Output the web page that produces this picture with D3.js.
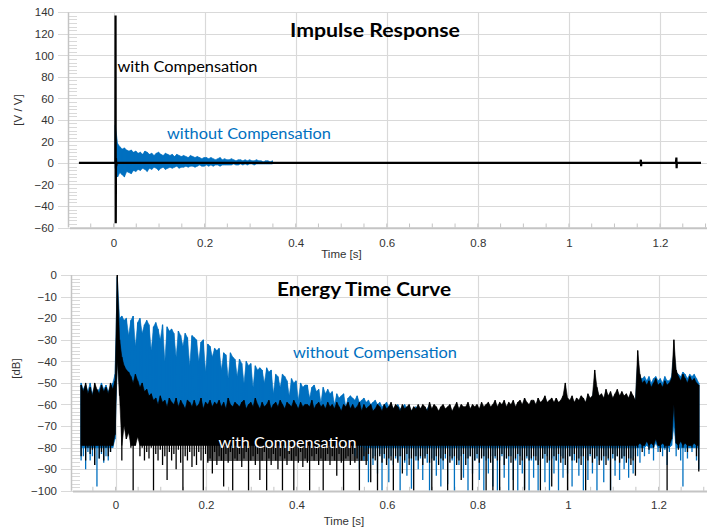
<!DOCTYPE html>
<html><head><meta charset="utf-8">
<script src="https://cdn.jsdelivr.net/npm/d3@7"></script>
<style>body{margin:0;background:#fff}svg{display:block}</style>
</head><body>
<svg id="c" width="707" height="530"></svg>
<script>
// ---------- axis ticks ----------
const timeTicks = [0, 0.2, 0.4, 0.6, 0.8, 1, 1.2];
const irTicks = [-60, -40, -20, 0, 20, 40, 60, 80, 100, 120, 140];
const etcTicks = [-100, -90, -80, -70, -60, -50, -40, -30, -20, -10, 0];

// ---------- Impulse response: "with Compensation" (time [s], value [V/V]) ----------
const irWithT = [-0.076, 0.0040, 0.0045, 0.0050, 0.0055, 0.0060, 0.0070, 1.1570, 1.1580, 1.1585, 1.1590, 1.2350, 1.2360, 1.2365, 1.2370, 1.2900];
const irWithV = [0, 0, 137, -56, 4, -3, 0, 0, 3, -3, 0, 0, 5, -5, 0, 0];

// ---------- Impulse response: "without Compensation", min/max per 5 ms bin from 0.004 s ----------
const irWithoutStart = 0.004, irBin = 0.005;
const irWithoutHi = [35,18,15,13,14,12,11,12,10,11, 9,10,8,11,10,8,9,7,9,10, 8,7,9,8,7,8,6,8,7,6, 7,6,5,7,6,5,6,5,4,5, 5,4,5,4,3,4,5,3,4,3, 3,4,3,2,3,3,2,3,2,3, 2,2,3,2,2,1,2,2,1,2];
const irWithoutLo = [-5,-13,-9,-11,-13,-8,-9,-10,-7,-8, -6,-7,-5,-6,-8,-5,-6,-4,-5,-7, -5,-4,-6,-5,-4,-5,-4,-3,-5,-4, -4,-3,-4,-3,-3,-4,-3,-2,-3,-3, -2,-3,-2,-3,-2,-2,-3,-2,-2,-2, -2,-2,-1,-2,-2,-1,-2,-1,-2,-1, -1,-2,-1,-1,-1,-1,-1,-1,-1,-1];

// ---------- Energy time curve, min/max per 5 ms bin from -0.076 s [dB] ----------
const etcStart = -0.076, etcBin = 0.005;
const etcWithHi = [
-51,-54,-50,-55,-52,-56,-50,-53,-55,-51,
-54,-52,-55,-50,-53,-49,0,-30,-38,-42,
-44,-45,-47,-50,-46,-49,-52,-50,-54,-53,
-56,-55,-58,-57,-60,-56,-59,-58,-61,-57,
-59,-60,-57,-61,-58,-60,-62,-58,-59,-61,
-58,-61,-60,-57,-62,-59,-60,-58,-61,-59,
-60,-58,-61,-59,-62,-57,-60,-61,-59,-60,
-61,-59,-58,-62,-60,-59,-61,-57,-60,-62,
-59,-61,-60,-58,-62,-60,-59,-61,-58,-60,
-62,-59,-60,-61,-58,-60,-62,-59,-61,-60,
-60,-61,-58,-62,-60,-59,-61,-60,-62,-59,
-61,-60,-62,-59,-61,-63,-60,-61,-59,-62,
-60,-62,-61,-59,-63,-60,-62,-61,-60,-63,
-62,-60,-61,-63,-60,-62,-61,-59,-62,-60,
-61,-63,-60,-62,-61,-60,-63,-61,-62,-60,
-62,-60,-61,-63,-59,-62,-60,-61,-63,-61,
-60,-62,-61,-60,-63,-61,-59,-62,-60,-61,
-61,-59,-62,-60,-61,-60,-62,-59,-61,-60,
-59,-61,-60,-58,-61,-59,-60,-58,-61,-59,
-60,-58,-61,-59,-58,-60,-57,-59,-60,-58,
-58,-60,-57,-59,-58,-56,-59,-58,-57,-59,
-57,-59,-58,-56,-50,-57,-58,-56,-59,-57,
-58,-56,-57,-59,-55,-57,-56,-44,-52,-56,
-55,-57,-53,-56,-54,-57,-55,-53,-56,-54,
-56,-55,-57,-54,-56,-58,-35,-46,-50,-49,
-51,-49,-52,-50,-48,-51,-50,-52,-49,-51,
-50,-48,-30,-44,-47,-49,-46,-48,-50,-47,
-49,-48,-50,-51];
const etcWithLo = [
-84,-79,-86,-80,-83,-81,-88,-79,-85,-82,
-86,-80,-84,-82,-79,-74,-40,-56,-86,-70,
-76,-73,-80,-100,-79,-75,-84,-80,-86,-82,
-85,-80,-100,-83,-86,-81,-88,-84,-95,-82,
-86,-83,-90,-81,-87,-100,-84,-86,-82,-89,
-84,-88,-82,-86,-100,-83,-87,-85,-92,-82,
-88,-84,-86,-98,-83,-87,-82,-100,-85,-86,
-83,-89,-85,-82,-100,-86,-84,-88,-83,-95,
-86,-82,-100,-85,-88,-83,-86,-90,-84,-100,
-85,-88,-83,-86,-100,-84,-87,-82,-89,-85,
-87,-100,-84,-86,-83,-88,-85,-100,-86,-83,
-88,-84,-86,-93,-83,-87,-100,-85,-84,-88,
-83,-87,-85,-100,-86,-84,-88,-83,-96,-85,
-86,-100,-84,-87,-83,-88,-85,-86,-100,-84,
-87,-84,-92,-86,-83,-88,-85,-100,-84,-86,
-84,-88,-85,-83,-87,-100,-86,-84,-88,-85,
-86,-83,-100,-87,-85,-84,-88,-86,-95,-83,
-88,-85,-84,-100,-86,-83,-87,-85,-84,-100,
-85,-87,-100,-84,-86,-100,-83,-88,-85,-84,
-87,-100,-85,-83,-88,-86,-100,-84,-86,-85,
-84,-86,-88,-100,-85,-83,-87,-86,-98,-84,
-86,-83,-87,-85,-88,-100,-84,-86,-83,-87,
-85,-88,-84,-100,-86,-83,-87,-85,-84,-88,
-86,-84,-88,-85,-100,-83,-86,-84,-87,-85,
-84,-87,-85,-88,-86,-93,-80,-78,-82,-79,
-77,-81,-78,-80,-76,-79,-82,-78,-80,-100,
-79,-76,-60,-78,-81,-77,-80,-78,-82,-79,
-80,-78,-84,-91];
const etcWithoutHi = [
-50,-53,-51,-54,-50,-55,-52,-54,-53,-50,
-53,-51,-54,-52,-50,-46,-1,-20,-19,-21,
-20,-28,-21,-19,-33,-22,-20,-27,-23,-21,
-23,-35,-24,-22,-25,-30,-23,-40,-24,-26,
-25,-27,-38,-26,-28,-33,-27,-29,-42,-28,
-29,-30,-40,-31,-30,-45,-32,-33,-38,-34,
-35,-34,-44,-36,-37,-48,-36,-38,-39,-47,
-39,-41,-50,-40,-42,-41,-52,-42,-44,-43,
-44,-50,-43,-45,-44,-55,-46,-47,-52,-46,
-47,-49,-56,-48,-50,-49,-58,-50,-52,-51,
-51,-57,-52,-51,-54,-53,-59,-52,-55,-53,
-55,-54,-60,-55,-57,-56,-55,-61,-57,-56,
-57,-58,-56,-59,-58,-57,-59,-58,-60,-59,
-58,-60,-59,-61,-60,-59,-61,-60,-62,-61,
-60,-62,-61,-60,-62,-61,-63,-62,-61,-63,
-62,-61,-63,-62,-60,-63,-61,-62,-64,-62,
-61,-63,-62,-61,-64,-62,-60,-63,-61,-62,
-62,-60,-63,-61,-62,-61,-63,-60,-62,-61,
-60,-62,-61,-59,-62,-60,-61,-59,-62,-60,
-61,-59,-62,-60,-59,-61,-58,-60,-61,-59,
-59,-61,-58,-60,-59,-57,-60,-59,-58,-60,
-58,-60,-59,-57,-55,-58,-59,-57,-60,-58,
-59,-57,-58,-60,-56,-58,-57,-50,-54,-57,
-56,-58,-55,-57,-55,-58,-56,-54,-57,-55,
-57,-56,-58,-55,-57,-59,-40,-48,-48,-47,
-49,-47,-50,-48,-47,-49,-48,-50,-47,-49,
-49,-47,-36,-45,-46,-47,-45,-46,-48,-46,
-47,-46,-48,-50];
const etcWithoutLo = [
-86,-84,-90,-82,-86,-84,-88,-98,-85,-83,
-87,-84,-86,-82,-80,-76,-38,-50,-45,-60,
-48,-50,-52,-55,-50,-53,-56,-54,-58,-57,
-60,-59,-62,-61,-63,-60,-62,-61,-64,-60,
-62,-63,-60,-64,-61,-63,-65,-61,-62,-64,
-61,-64,-63,-60,-65,-62,-63,-61,-64,-62,
-63,-61,-64,-62,-65,-60,-63,-64,-62,-63,
-64,-62,-61,-65,-63,-62,-64,-60,-63,-65,
-62,-64,-63,-61,-65,-63,-62,-64,-61,-63,
-65,-62,-63,-64,-61,-63,-65,-62,-64,-63,
-63,-64,-61,-65,-63,-62,-64,-63,-65,-62,
-66,-64,-67,-63,-66,-68,-64,-66,-63,-67,
-75,-84,-78,-90,-79,-86,-82,-96,-80,-88,
-84,-92,-83,-100,-85,-86,-96,-84,-88,-85,
-86,-100,-84,-87,-93,-85,-99,-84,-86,-90,
-85,-95,-84,-87,-100,-85,-86,-93,-84,-98,
-90,-85,-97,-84,-86,-100,-85,-88,-84,-94,
-85,-100,-84,-92,-86,-85,-95,-84,-100,-86,
-92,-84,-98,-85,-100,-86,-84,-94,-85,-100,
-84,-95,-86,-100,-84,-92,-99,-85,-100,-86,
-94,-84,-100,-86,-85,-96,-84,-100,-85,-92,
-86,-100,-84,-94,-85,-92,-84,-98,-86,-85,
-93,-84,-100,-85,-95,-84,-92,-85,-100,-86,
-85,-96,-84,-86,-100,-85,-93,-84,-95,-85,
-90,-84,-94,-85,-92,-84,-84,-87,-80,-84,
-79,-83,-80,-86,-78,-82,-80,-84,-81,-88,
-82,-79,-70,-84,-80,-86,-98,-82,-85,-80,
-82,-80,-86,-90];

// ---------- labels ----------
const titles = ["Impulse Response", "Energy Time Curve"];
const seriesNames = ["with Compensation", "without Compensation"];
const yTitles = ["[V / V]", "[dB]"];
const xTitle = "Time [s]";

// ---------- drawing ----------
const BLUE = "#0070c0", GRID = "#d9d9d9", AXIS = "#c4c4c4";
const svg = d3.select("#c");
const defs = svg.append("defs");

function bins(t0, dt, hi, lo) {
  return hi.map((h, i) => ({t: t0 + dt * i, hi: h, lo: lo[i]}));
}
// dense signal drawn as a filled min/max band (core clipped at `floor`) plus thin min/max bars
function drawBand(P, data, color, floor, barW) {
  const area = d3.area().x(d => P.x(d.t)).y1(d => P.y(d.hi)).y0(d => P.y(Math.max(d.lo, floor)));
  P.dg.append("path").attr("d", area(data)).attr("fill", color).attr("stroke", color).attr("stroke-width", 0.6);
  const bars = data.map(d => `M${P.x(d.t).toFixed(2)},${P.y(d.hi).toFixed(2)}V${P.y(d.lo).toFixed(2)}`).join("");
  P.dg.append("path").attr("d", bars).attr("fill", "none").attr("stroke", color).attr("stroke-width", barW);
}

function panel(o) {
  const g = svg.append("g");
  const x = d3.scaleLinear().domain([0, 1.2]).range(o.xr);
  const y = d3.scaleLinear().domain(o.yd).range(o.yr);
  const top = o.yr[1], bot = o.yr[0];
  const left = o.left, right = 707;
  g.selectAll(".hg").data(o.yticks).join("line")
    .attr("x1", left - 10).attr("x2", right)
    .attr("y1", d => Math.round(y(d)) + 0.5).attr("y2", d => Math.round(y(d)) + 0.5)
    .attr("stroke", GRID).attr("stroke-width", 1.2);
  g.selectAll(".vg").data(timeTicks).join("line")
    .attr("x1", d => Math.round(x(d)) + 0.5).attr("x2", d => Math.round(x(d)) + 0.5)
    .attr("y1", top).attr("y2", bot)
    .attr("stroke", GRID).attr("stroke-width", 1.2);
  const minor = [];
  for (let k = 0; k < o.yticks.length - 1; k++) {
    const a = o.yticks[k], b = o.yticks[k + 1];
    for (let m = 1; m < 6; m++) minor.push(a + (b - a) * m / 6);
  }
  g.selectAll(".my").data(minor).join("line")
    .attr("x1", left).attr("x2", left + 9)
    .attr("y1", d => Math.round(y(d)) + 0.5).attr("y2", d => Math.round(y(d)) + 0.5)
    .attr("stroke", GRID).attr("stroke-width", 1);
  const xm = d3.range(-0.05, 1.31, 0.05);
  g.selectAll(".mx").data(xm).join("line")
    .attr("x1", d => x(d)).attr("x2", d => x(d))
    .attr("y1", bot - 4).attr("y2", bot)
    .attr("stroke", AXIS).attr("stroke-width", 1);
  const ya = d3.axisLeft(y).tickValues(o.yticks).tickSize(0).tickPadding(0);
  const yag = g.append("g").attr("transform", `translate(${o.labelRight},0)`).call(ya);
  yag.select(".domain").remove();
  yag.selectAll("text").attr("font-family", "Liberation Sans, Arial, sans-serif")
    .attr("font-size", "11.5px").attr("fill", "#333");
  const xa = d3.axisBottom(x).tickValues(timeTicks).tickSize(0).tickPadding(0).tickFormat(d3.format("~g"));
  const xag = g.append("g").attr("transform", `translate(0,${o.xLabelY})`).call(xa);
  xag.select(".domain").remove();
  xag.selectAll("text").attr("dy", 0).attr("font-family", "Liberation Sans, Arial, sans-serif")
    .attr("font-size", "11.5px").attr("fill", "#333");
  const cid = "clip" + o.id;
  defs.append("clipPath").attr("id", cid).append("rect")
    .attr("x", left).attr("y", top - 1).attr("width", right - left).attr("height", bot - top + 1);
  const dg = g.append("g").attr("clip-path", `url(#${cid})`);
  g.append("line").attr("x1", left + 0.5).attr("x2", left + 0.5).attr("y1", top).attr("y2", bot)
    .attr("stroke", AXIS).attr("stroke-width", 1.5);
  g.append("line").attr("x1", left + 2).attr("x2", right).attr("y1", bot + 0.8).attr("y2", bot + 0.8)
    .attr("stroke", AXIS).attr("stroke-width", 2);
  g.append("text").attr("x", o.titleX).attr("y", o.titleY).text(o.title)
    .attr("font-family", "Lato, 'Open Sans', sans-serif").attr("font-weight", "bold")
    .attr("font-size", "18px").attr("textLength", o.titleW).attr("lengthAdjust", "spacingAndGlyphs").attr("fill", "#000");
  g.append("text").attr("transform", `translate(${o.ytX},${o.ytY}) rotate(-90)`)
    .attr("text-anchor", "middle").attr("dominant-baseline", "central").text(o.ytitle)
    .attr("font-family", "Liberation Sans, Arial, sans-serif").attr("font-size", "11.5px").attr("fill", "#333");
  g.append("text").attr("x", o.xtX).attr("y", o.xtY).attr("text-anchor", "middle").text(xTitle)
    .attr("font-family", "Liberation Sans, Arial, sans-serif").attr("font-size", "11.5px").attr("fill", "#333");
  return {g, dg, x, y};
}

// ----- top panel -----
const P1 = panel({id: 1, xr: [113.5, 660], yd: [-60, 140], yr: [227.5, 12.3], left: 68, yticks: irTicks,
  labelRight: 54, xLabelY: 246.5, title: titles[0], titleX: 290, titleY: 36.5, titleW: 170,
  ytitle: yTitles[0], ytX: 18, ytY: 110, xtX: 341.5, xtY: 258});
{
  drawBand(P1, bins(irWithoutStart, irBin, irWithoutHi, irWithoutLo), BLUE, -1000, 1.1);
  const line = d3.line().x(d => P1.x(d[0])).y(d => P1.y(d[1]));
  P1.dg.append("path").attr("d", line(irWithT.map((t, i) => [t, irWithV[i]])))
    .attr("fill", "none").attr("stroke", "#000").attr("stroke-width", 2.2);
  const f = "Lato, 'Open Sans', sans-serif";
  P1.g.append("text").attr("x", 117.5).attr("y", 72).text(seriesNames[0]).attr("font-family", f)
    .attr("font-size", "15.5px").attr("textLength", 140).attr("lengthAdjust", "spacingAndGlyphs").attr("fill", "#000");
  P1.g.append("text").attr("x", 167).attr("y", 139).text(seriesNames[1]).attr("font-family", f)
    .attr("font-size", "15.5px").attr("textLength", 164).attr("lengthAdjust", "spacingAndGlyphs").attr("fill", BLUE);
}

// ----- bottom panel -----
const P2 = panel({id: 2, xr: [115.5, 658.5], yd: [-100, 0], yr: [490.8, 275], left: 71, yticks: etcTicks,
  labelRight: 57, xLabelY: 508.5, title: titles[1], titleX: 277, titleY: 295.5, titleW: 174,
  ytitle: yTitles[1], ytX: 15.5, ytY: 368.5, xtX: 344, xtY: 525});
{
  P2.dg.append("rect").attr("x", 207).attr("y", 430).attr("width", 161).attr("height", 31).attr("fill", "#5a5a5a");
  drawBand(P2, bins(etcStart, etcBin, etcWithoutHi, etcWithoutLo), BLUE, -80, 1.3);
  drawBand(P2, bins(etcStart, etcBin, etcWithHi, etcWithLo), "#000", -79, 1.3);
  const f = "Lato, 'Open Sans', sans-serif";
  P2.g.append("text").attr("x", 293).attr("y", 357.5).text(seriesNames[1]).attr("font-family", f)
    .attr("font-size", "15.5px").attr("textLength", 164).attr("lengthAdjust", "spacingAndGlyphs").attr("fill", BLUE);
  P2.g.append("text").attr("x", 218.5).attr("y", 448).text(seriesNames[0]).attr("font-family", f)
    .attr("font-size", "15.5px").attr("textLength", 138).attr("lengthAdjust", "spacingAndGlyphs").attr("fill", "#fff");
}
</script>
</body></html>
